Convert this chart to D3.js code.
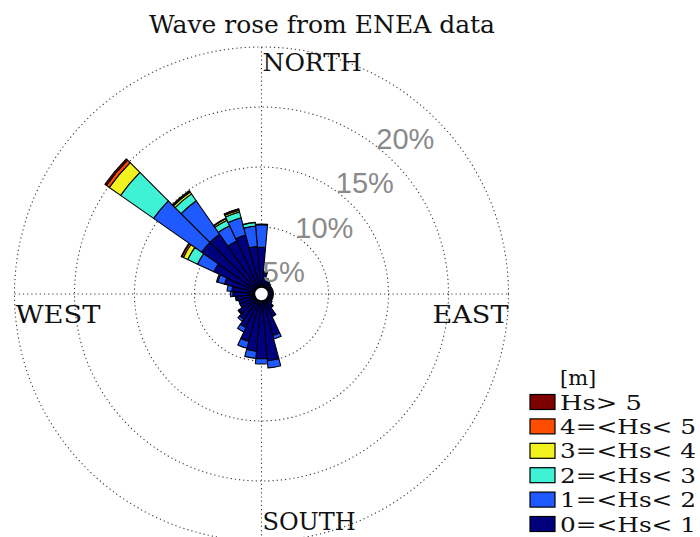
<!DOCTYPE html>
<html>
<head>
<meta charset="utf-8">
<script src="https://cdn.jsdelivr.net/npm/d3@7"></script>
<style>
  html, body { margin: 0; padding: 0; background: #fff; }
  svg { display: block; }
</style>
</head>
<body>
<svg id="chart" width="700" height="537"></svg>
<script>
// ---------------- DATA ----------------
const title = "Wave rose from ENEA data";
const directions = [0,10,20,30,40,50,60,70,80,90,100,110,120,130,140,150,160,170,
                    180,190,200,210,220,230,240,250,260,270,280,290,300,310,320,330,340,350];
const classLabels = ["0=<Hs< 1","1=<Hs< 2","2=<Hs< 3","3=<Hs< 4","4=<Hs< 5","Hs> 5"];
const classColors = ["#00007f","#1e5aff","#3ff2d5","#f2f21e","#ff4d00","#7f0000"];
// frequency (%) of each Hs class per direction sector
const hs0_1 = [3.3,1.2,0.8,0.6,0.5,0.4,0.4,0.4,0.4,0.4,0.4,0.4,0.4,0.5,0.8,1.5,3.0,5.0,
               4.8,4.2,3.5,2.5,2.0,1.7,1.4,1.4,1.5,1.8,1.9,2.6,3.8,5.5,5.5,4.3,4.5,3.4];
const hs1_2 = [1.9,0.1,0,0,0,0,0,0,0,0,0,0,0,0,0,0,0.3,0.6,
               0.45,0.6,0.6,0.4,0.2,0.1,0,0,0.1,0.2,0.4,0.6,1.5,4.9,3.4,1.4,1.5,1.7];
const hs2_3 = [0.05,0,0,0,0,0,0,0,0,0,0,0,0,0,0,0,0,0,
               0,0,0,0,0,0,0,0,0,0,0,0.1,0.9,3.35,0.7,0.5,0.5,0.3];
const hs3_4 = [0,0,0,0,0,0,0,0,0,0,0,0,0,0,0,0,0,0,
               0,0,0,0,0,0,0,0,0,0,0,0,0.4,1.15,0.2,0.15,0.15,0.02];
const hs4_5 = [0,0,0,0,0,0,0,0,0,0,0,0,0,0,0,0,0,0,
               0,0,0,0,0,0,0,0,0,0,0,0,0.15,0.3,0.1,0.05,0.1,0];
const hsGt5 = [0,0,0,0,0,0,0,0,0,0,0,0,0,0,0,0,0,0,
               0,0,0,0,0,0,0,0,0,0,0,0,0.05,0.15,0.02,0,0.02,0];
const ringTicks = [5,10,15,20];
const ringTickLabels = ["5%","10%","15%","20%"];
const compassLabels = ["NORTH","EAST","SOUTH","WEST"];
const legendTitle = "[m]";
const sectorWidth = 10;

// ---------------- CHART ----------------
const svg = d3.select("#chart");
const cx = 261.5, cy = 294;
const r = d3.scaleLinear().domain([0, 20]).range([7, 247]);
const ang = d3.scaleLinear().domain([0, 360]).range([0, 2 * Math.PI]);

const g = svg.append("g").attr("transform", `translate(${cx},${cy})`);

// grid circles
g.selectAll("circle.grid").data(ringTicks).join("circle")
  .attr("class", "grid")
  .attr("r", d => r(d))
  .attr("fill", "none")
  .attr("stroke", "#3a3a3a")
  .attr("stroke-width", 1.1)
  .attr("stroke-dasharray", "1.2,3");

// axes lines
const R = r(20);
g.append("line").attr("x1", -R).attr("x2", R).attr("y1", 0).attr("y2", 0)
  .attr("stroke", "#3a3a3a").attr("stroke-width", 1.1).attr("stroke-dasharray", "1.2,3");
g.append("line").attr("x1", 0).attr("x2", 0).attr("y1", -R).attr("y2", R)
  .attr("stroke", "#3a3a3a").attr("stroke-width", 1.1).attr("stroke-dasharray", "1.2,3");

// stacked wedges
const series = [hs0_1, hs1_2, hs2_3, hs3_4, hs4_5, hsGt5];
const segs = [];
directions.forEach((dir, i) => {
  let base = 0;
  series.forEach((s, k) => {
    const v = s[i];
    if (v > 0) segs.push({dir, k, lo: base, hi: base + v});
    base += v;
  });
});
const arc = d3.arc()
  .innerRadius(d => r(d.lo))
  .outerRadius(d => r(d.hi))
  .startAngle(d => ang(d.dir - sectorWidth / 2))
  .endAngle(d => ang(d.dir + sectorWidth / 2));
g.selectAll("path.seg").data(segs).join("path")
  .attr("class", "seg")
  .attr("d", arc)
  .attr("fill", d => classColors[d.k])
  .attr("stroke", "#000")
  .attr("stroke-width", 1.1)
  .attr("stroke-linejoin", "round");

// centre hole
g.append("circle").attr("r", r(0)).attr("fill", "#fff").attr("stroke", "#000").attr("stroke-width", 1.5);

// ring labels
const labAng = 42.5 * Math.PI / 180;
g.selectAll("text.ring").data(ringTicks).join("text")
  .attr("class", "ring")
  .attr("x", d => (r(d) - 37) * Math.sin(labAng) + 2)
  .attr("y", d => -(r(d) - 37) * Math.cos(labAng))
  .attr("text-anchor", "middle")
  .attr("dominant-baseline", "central")
  .attr("font-family", "'Liberation Sans', Arial, sans-serif")
  .attr("font-size", 29)
  .attr("fill", "#8a8a8a")
  .text((d, i) => ringTickLabels[i]);

// compass labels
const serif = "'DejaVu Serif', serif";
svg.append("text").attr("x", cx + 1).attr("y", cy - R + 24).attr("text-anchor", "start")
  .attr("font-family", serif).attr("font-size", 25).attr("fill", "#111").text(compassLabels[0]);
svg.append("text").attr("x", cx + R).attr("y", cy + 29).attr("text-anchor", "end")
  .attr("font-family", serif).attr("font-size", 25).attr("fill", "#111")
  .attr("textLength", 76).attr("lengthAdjust", "spacingAndGlyphs").text(compassLabels[1]);
svg.append("text").attr("x", cx + 1).attr("y", 530).attr("text-anchor", "start")
  .attr("font-family", serif).attr("font-size", 24).attr("fill", "#111").text(compassLabels[2]);
svg.append("text").attr("x", cx - R + 1).attr("y", cy + 29).attr("text-anchor", "start")
  .attr("font-family", serif).attr("font-size", 25).attr("fill", "#111")
  .attr("textLength", 85).attr("lengthAdjust", "spacingAndGlyphs").text(compassLabels[3]);

// title
svg.append("text").attr("x", 322).attr("y", 33).attr("text-anchor", "middle")
  .attr("font-family", serif).attr("font-size", 25).attr("fill", "#111").text(title);

// legend
const lg = svg.append("g");
lg.append("text").attr("x", 560).attr("y", 385).attr("font-family", serif)
  .attr("font-size", 21).attr("fill", "#111").text(legendTitle);
const order = d3.range(classLabels.length).reverse();
const rowY = d3.scalePoint().domain(order).range([402, 524]);
order.forEach(k => {
  const y = rowY(k);
  lg.append("rect").attr("x", 530).attr("y", y - 7.5).attr("width", 25).attr("height", 15)
    .attr("fill", classColors[k]).attr("stroke", "#000").attr("stroke-width", 1.2);
  lg.append("text").attr("x", 560).attr("y", y + 7.5).attr("font-family", serif)
    .attr("font-size", 21).attr("fill", "#111")
    .attr("textLength", k === 5 ? 82 : 136).attr("lengthAdjust", "spacingAndGlyphs")
    .text(classLabels[k]);
});
</script>
</body>
</html>
